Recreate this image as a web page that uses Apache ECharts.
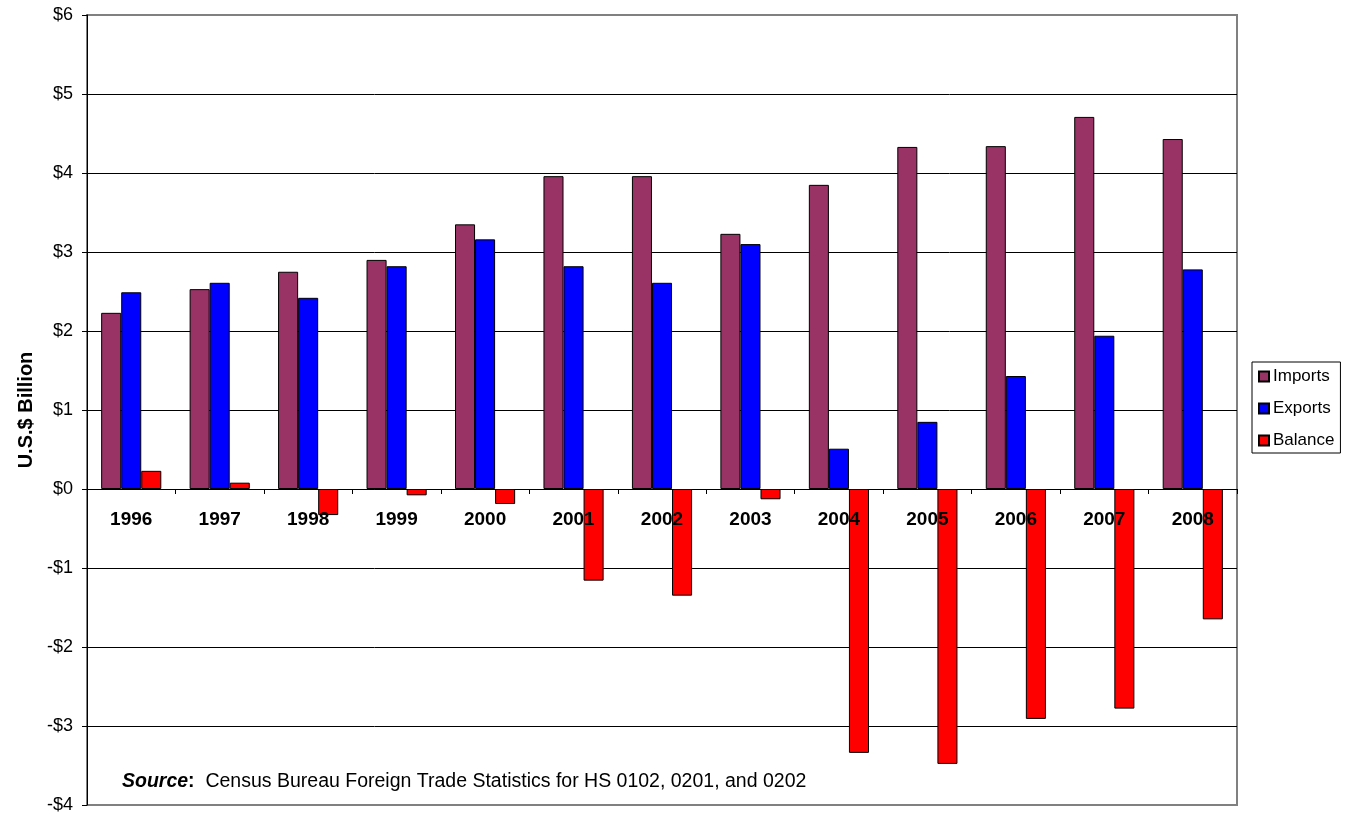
<!DOCTYPE html>
<html>
<head>
<meta charset="utf-8">
<script src="https://cdn.jsdelivr.net/npm/echarts@6/dist/echarts.min.js"></script>
<style>html,body{margin:0;padding:0;background:#fff;}#main{width:1348px;height:813px;}</style>
</head>
<body>
<div id="main"></div>
<script>
const years = ['1996','1997','1998','1999','2000','2001','2002','2003','2004','2005','2006','2007','2008'];
const imports = [2.23, 2.53, 2.75, 2.90, 3.35, 3.96, 3.96, 3.23, 3.85, 4.33, 4.34, 4.71, 4.43];
const exportsV = [2.49, 2.61, 2.42, 2.82, 3.16, 2.82, 2.61, 3.10, 0.51, 0.85, 1.43, 1.94, 2.78];
const balance = [0.23, 0.08, -0.33, -0.08, -0.19, -1.16, -1.35, -0.13, -3.34, -3.48, -2.91, -2.78, -1.65];
const seriesNames = ['Imports', 'Exports', 'Balance'];
const yMin = -4, yMax = 6, yStep = 1;

const FONT = '"Liberation Sans", Arial, sans-serif';
const GRID = { left: 87, right: 111, top: 15, bottom: 8 };
const H = 813;
const plotH = H - GRID.top - GRID.bottom;
// distance from the bottom of the plot to the value 0 line (x axis sits on zero)
const zeroOffset = plotH * (0 - yMin) / (yMax - yMin);

const chart = echarts.init(document.getElementById('main'));
const barStyle = c => ({ color: c, borderColor: '#000', borderWidth: 1 });
const splitColors = [];
for (let v = yMin; v <= yMax; v += yStep) splitColors.push((v === yMin || v === yMax) ? '#808080' : '#000');

chart.setOption({
  animation: false,
  backgroundColor: '#fff',
  textStyle: { fontFamily: FONT },
  grid: Object.assign({ show: true, borderColor: '#808080', borderWidth: 2, outerBoundsMode: 'none', containLabel: false }, GRID),
  legend: {
    orient: 'vertical', left: 1252, top: 362,
    data: seriesNames,
    itemWidth: 10, itemHeight: 10, itemGap: 15,
    borderColor: '#000', borderWidth: 1, padding: [6, 6, 4, 6],
    textStyle: { fontSize: 17, fontFamily: FONT, color: '#000', padding: [0, 0, 0, -1] },
    icon: 'rect'
  },
  xAxis: {
    type: 'category', data: years, position: 'bottom', offset: -zeroOffset, z: 5,
    axisLine: { onZero: false, lineStyle: { color: '#000', width: 1 } },
    axisTick: { show: true, length: 5, lineStyle: { color: '#000' } },
    axisLabel: { margin: 21, fontSize: 19, fontWeight: 'bold', color: '#000', fontFamily: FONT },
    splitLine: { show: false }
  },
  yAxis: {
    type: 'value', min: yMin, max: yMax, interval: yStep,
    name: 'U.S.$ Billion', nameLocation: 'middle', nameGap: 51, nameRotate: 90,
    nameTextStyle: { fontSize: 20, fontWeight: 'bold', color: '#000', fontFamily: FONT },
    axisLine: { show: true, lineStyle: { color: '#000', width: 1 } },
    axisTick: { show: true, length: 5, lineStyle: { color: '#000' } },
    axisLabel: { formatter: v => (v < 0 ? '-$' + (-v) : '$' + v), fontSize: 18, color: '#000', margin: 14, fontFamily: FONT },
    splitLine: { show: true, lineStyle: { color: splitColors, width: 1 } }
  },
  series: [
    { name: seriesNames[0], type: 'bar', data: imports, itemStyle: barStyle('#993366'), barGap: '0%', barCategoryGap: '32%' },
    { name: seriesNames[1], type: 'bar', data: exportsV, itemStyle: barStyle('#0000FF'), barGap: '0%', barCategoryGap: '32%' },
    { name: seriesNames[2], type: 'bar', data: balance, itemStyle: barStyle('#FF0000'), barGap: '0%', barCategoryGap: '32%' }
  ],
  graphic: [{
    type: 'text', left: 122, top: 772,
    style: {
      text: '{b|Source}{s|:}  Census Bureau Foreign Trade Statistics for HS 0102, 0201, and 0202',
      fontSize: 19.5, fontFamily: FONT, fill: '#000',
      rich: {
        b: { fontSize: 19.5, fontWeight: 'bold', fontStyle: 'italic', fontFamily: FONT },
        s: { fontSize: 19.5, fontWeight: 'bold', fontFamily: FONT }
      }
    }
  }]
});
</script>
</body>
</html>
